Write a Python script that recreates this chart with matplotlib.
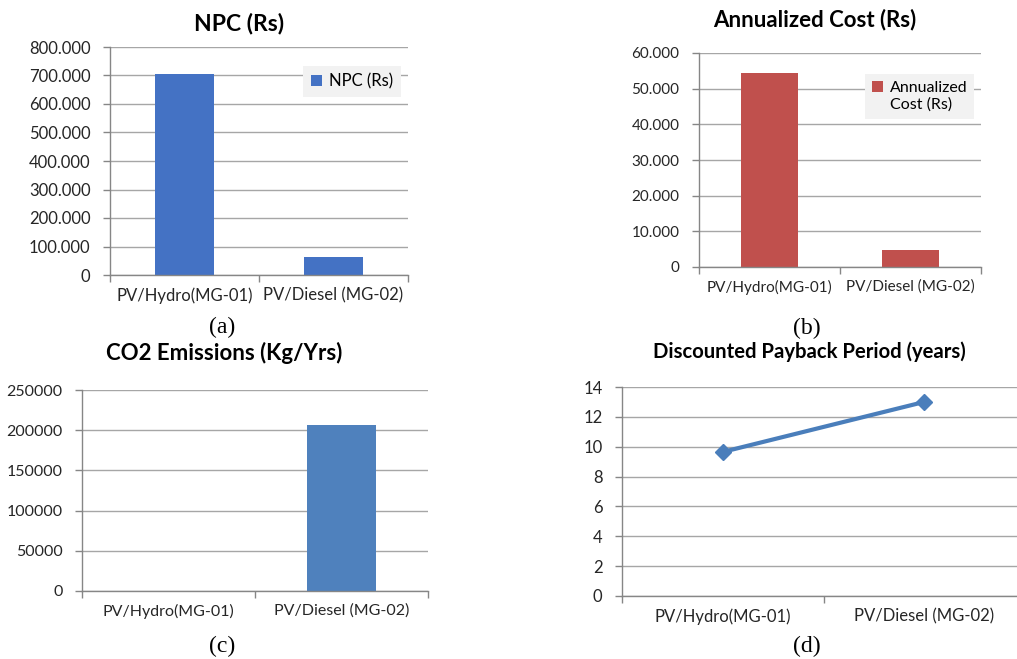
import matplotlib.pyplot as plt
from matplotlib.ticker import FuncFormatter
from matplotlib.patches import Rectangle
from matplotlib.container import BarContainer
from matplotlib.legend_handler import HandlerPatch, update_from_first_child

W, H = 1017, 659

categories = ["PV/Hydro(MG-01)", "PV/Diesel (MG-02)"]
npc = [706000, 64000]
annualized = [54300, 4900]
co2 = [0, 207000]
payback = [9.65, 13.0]

grid_col = "#a6a6a6"
axis_col = "#868686"
txt_col = "#262626"

plt.rcParams['font.family'] = ['Lato', 'DejaVu Sans']

fig = plt.figure(figsize=(W / 100, H / 100), dpi=100)


def make_axes(left, right, top, bottom):
    # pixel box -> figure fraction
    return fig.add_axes([left / W, (H - bottom) / H, (right - left) / W, (bottom - top) / H])


def style(ax, ymax, ystep, fmt, fs=12):
    ax.set_xlim(-0.5, 1.5)
    ax.set_ylim(0, ymax)
    ax.set_yticks(range(0, ymax + 1, ystep))
    ax.yaxis.set_major_formatter(FuncFormatter(fmt))
    ax.set_xticks([0, 1])
    ax.set_xticklabels(categories)
    ax.set_xticks([-0.5, 0.5, 1.5], minor=True)
    ax.tick_params(axis='x', which='major', length=0, pad=9, labelsize=fs, labelcolor=txt_col)
    ax.tick_params(axis='x', which='minor', length=5, color=axis_col, width=1)
    ax.tick_params(axis='y', length=5, color=axis_col, width=1, pad=9, labelsize=fs, labelcolor=txt_col)
    ax.grid(axis='y', color=grid_col, lw=1)
    ax.set_axisbelow(True)
    for s in ['top', 'right']:
        ax.spines[s].set_visible(False)
    for s in ['left', 'bottom']:
        ax.spines[s].set_color(axis_col)
        ax.spines[s].set_linewidth(1)


def dotted(v, pos):
    return f"{int(v):,}".replace(",", ".")


def plain(v, pos):
    return f"{int(v)}"


def top_square(legend, orig_handle, xdescent, ydescent, width, height, fontsize):
    # square next to the first line of a two-line label
    return Rectangle((-xdescent, -ydescent + 0.6 * fontsize), width, height)


leg_kw = dict(loc='upper left', frameon=True, facecolor="#f2f2f2", edgecolor="none",
              fancybox=False, framealpha=1, handlelength=0.7, handleheight=0.7,
              handletextpad=0.4, borderpad=0.45)

# (a) NPC
ax1 = make_axes(110, 408, 47, 275)
ax1.bar([0, 1], npc, width=0.4, color="#4472c4", label="NPC (Rs)")
style(ax1, 800000, 100000, dotted)
ax1.legend(bbox_to_anchor=(0.62, 0.955), fontsize=12, **leg_kw)
fig.text(239 / W, 1 - 24 / H, "NPC (Rs)", ha='center', va='center', fontsize=16.5, fontweight='bold')
fig.text(222 / W, 1 - 327 / H, "(a)", ha='center', va='center', fontsize=17, family='Liberation Serif')

# (b) Annualized cost
ax2 = make_axes(699, 981, 53, 267)
ax2.bar([0, 1], annualized, width=0.4, color="#c0504d", label="Annualized\nCost (Rs)")
style(ax2, 60000, 10000, dotted, fs=11)
top_handler = HandlerPatch(patch_func=top_square, update_func=update_from_first_child)
ax2.legend(bbox_to_anchor=(0.56, 0.94), fontsize=11.5,
           handler_map={BarContainer: top_handler}, **leg_kw)
fig.text(815 / W, 1 - 20 / H, "Annualized Cost (Rs)", ha='center', va='center', fontsize=16, fontweight='bold')
fig.text(807 / W, 1 - 328 / H, "(b)", ha='center', va='center', fontsize=17, family='Liberation Serif')

# (c) CO2 emissions
ax3 = make_axes(82, 428, 390, 591)
ax3.bar([0, 1], co2, width=0.4, color="#4f81bd")
style(ax3, 250000, 50000, plain, fs=11.5)
fig.text(224 / W, 1 - 353 / H, "CO2 Emissions (Kg/Yrs)", ha='center', va='center', fontsize=16, fontweight='bold')
fig.text(222 / W, 1 - 646 / H, "(c)", ha='center', va='center', fontsize=17, family='Liberation Serif')

# (d) Discounted payback period
ax4 = make_axes(622, 1025, 387, 596)
ax4.plot([0, 1], payback, color="#4a7ebb", lw=3, marker='D', markersize=8)
style(ax4, 14, 2, plain)
fig.text(809 / W, 1 - 352 / H, "Discounted Payback Period (years)", ha='center', va='center',
         fontsize=14.6, fontweight='bold')
fig.text(807 / W, 1 - 646 / H, "(d)", ha='center', va='center', fontsize=17, family='Liberation Serif')

fig.savefig("out.png", dpi=100)
